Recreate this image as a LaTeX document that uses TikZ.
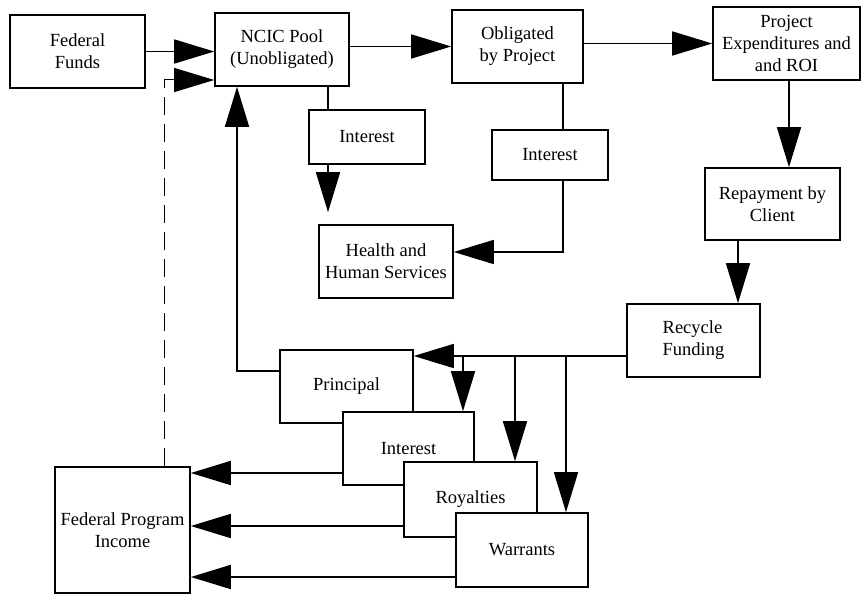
\documentclass[tikz,border=0pt]{standalone}
\usepackage{fontspec}
\setmainfont{Liberation Serif}
\usetikzlibrary{arrows.meta}
\begin{document}
\begin{tikzpicture}[x=1pt,y=-1pt,
  box/.style={draw, line width=1.6pt, fill=white, inner sep=0pt, align=center,
    font=\fontsize{18.5}{22}\selectfont},
  sz/.style 2 args={minimum width=#1pt, minimum height=#2pt},
  flow/.style={line width=1.6pt, -{Triangle[length=40pt,width=24pt]}},
  link/.style={line width=1.6pt},
  dashlink/.style={line width=1pt, dash pattern=on 18pt off 9pt, -{Triangle[length=40pt,width=24pt]}}]
\useasboundingbox (0,0) rectangle (865,602);

% boxes
\node[box, sz={135}{73}] (ff)   at (77.5,51.5)  {Federal\\Funds};
\node[box, sz={134}{73}] (ncic) at (282,49.5)   {NCIC Pool\\(Unobligated)};
\node[box, sz={131}{73}] (ob)   at (517.5,46.5) {Obligated\\by Project};
\node[box, sz={147}{73}] (pe)   at (786.5,43.5) {Project\\Expenditures and\\and ROI};
\node[box, sz={116}{54}] (int1) at (367,137)    {Interest};
\node[box, sz={116}{50}] (int2) at (550,155)    {Interest};
\node[box, sz={134}{73}] (hhs)  at (386,261.5)  {Health and\\Human Services};
\node[box, sz={135}{72}] (rep)  at (772.5,204)  {Repayment by\\Client};
\node[box, sz={133}{73}, align=left] (rec) at (693.5,340.5) {Recycle\\Funding};
\node[box, sz={133}{73}] (prin) at (346.5,386.5) {Principal};
\node[box, sz={131}{73}] (int3) at (408.5,448.5) {Interest};
\node[box, sz={133}{75}] (roy)  at (470.5,499.5) {Royalties};
\node[box, sz={132}{74}] (war)  at (522,550)    {Warrants};
\node[box, sz={135}{126}] (fpi) at (122.5,530)  {Federal Program\\Income};

% helper coordinates
\coordinate (cA) at (328,0);
\coordinate (cB) at (563,252);
\coordinate (cC) at (789,0);
\coordinate (cD) at (738,0);
\coordinate (cE) at (463,356);
\coordinate (cF) at (515,356);
\coordinate (cG) at (566,356);
\coordinate (cH) at (237,371);
\coordinate (cI) at (164,80);
\coordinate (yA) at (0,473);
\coordinate (yB) at (0,526);
\coordinate (yC) at (0,577);

% connectors
\draw[flow] (ff.east) -- (ncic.west |- ff.east);
\draw[dashlink] (fpi.north -| cI) |- (ncic.west |- cI);
\draw[flow] (ncic.east |- ob.west) -- (ob.west);
\draw[flow] (ob.east |- pe.west) -- (pe.west);
\draw[link] (ncic.south -| cA) -- (int1.north -| cA);
\draw[flow, shorten >=12pt] (int1.south -| cA) -- (hhs.north -| cA);
\draw[link] (ob.south -| cB) -- (int2.north -| cB);
\draw[flow] (int2.south -| cB) -- (cB) -- (hhs.east |- cB);
\draw[flow] (pe.south -| cC) -- (rep.north -| cC);
\draw[flow] (rep.south -| cD) -- (rec.north -| cD);
\draw[flow] (rec.west |- cE) -- (prin.east |- cE);
\draw[flow] (cE) -- (int3.north -| cE);
\draw[flow] (cF) -- (roy.north -| cF);
\draw[flow] (cG) -- (war.north -| cG);
\draw[flow] (prin.west |- cH) -- (cH) -- (ncic.south -| cH);
\draw[flow] (int3.west |- yA) -- (fpi.east |- yA);
\draw[flow] (roy.west |- yB) -- (fpi.east |- yB);
\draw[flow] (war.west |- yC) -- (fpi.east |- yC);
\end{tikzpicture}
\end{document}
